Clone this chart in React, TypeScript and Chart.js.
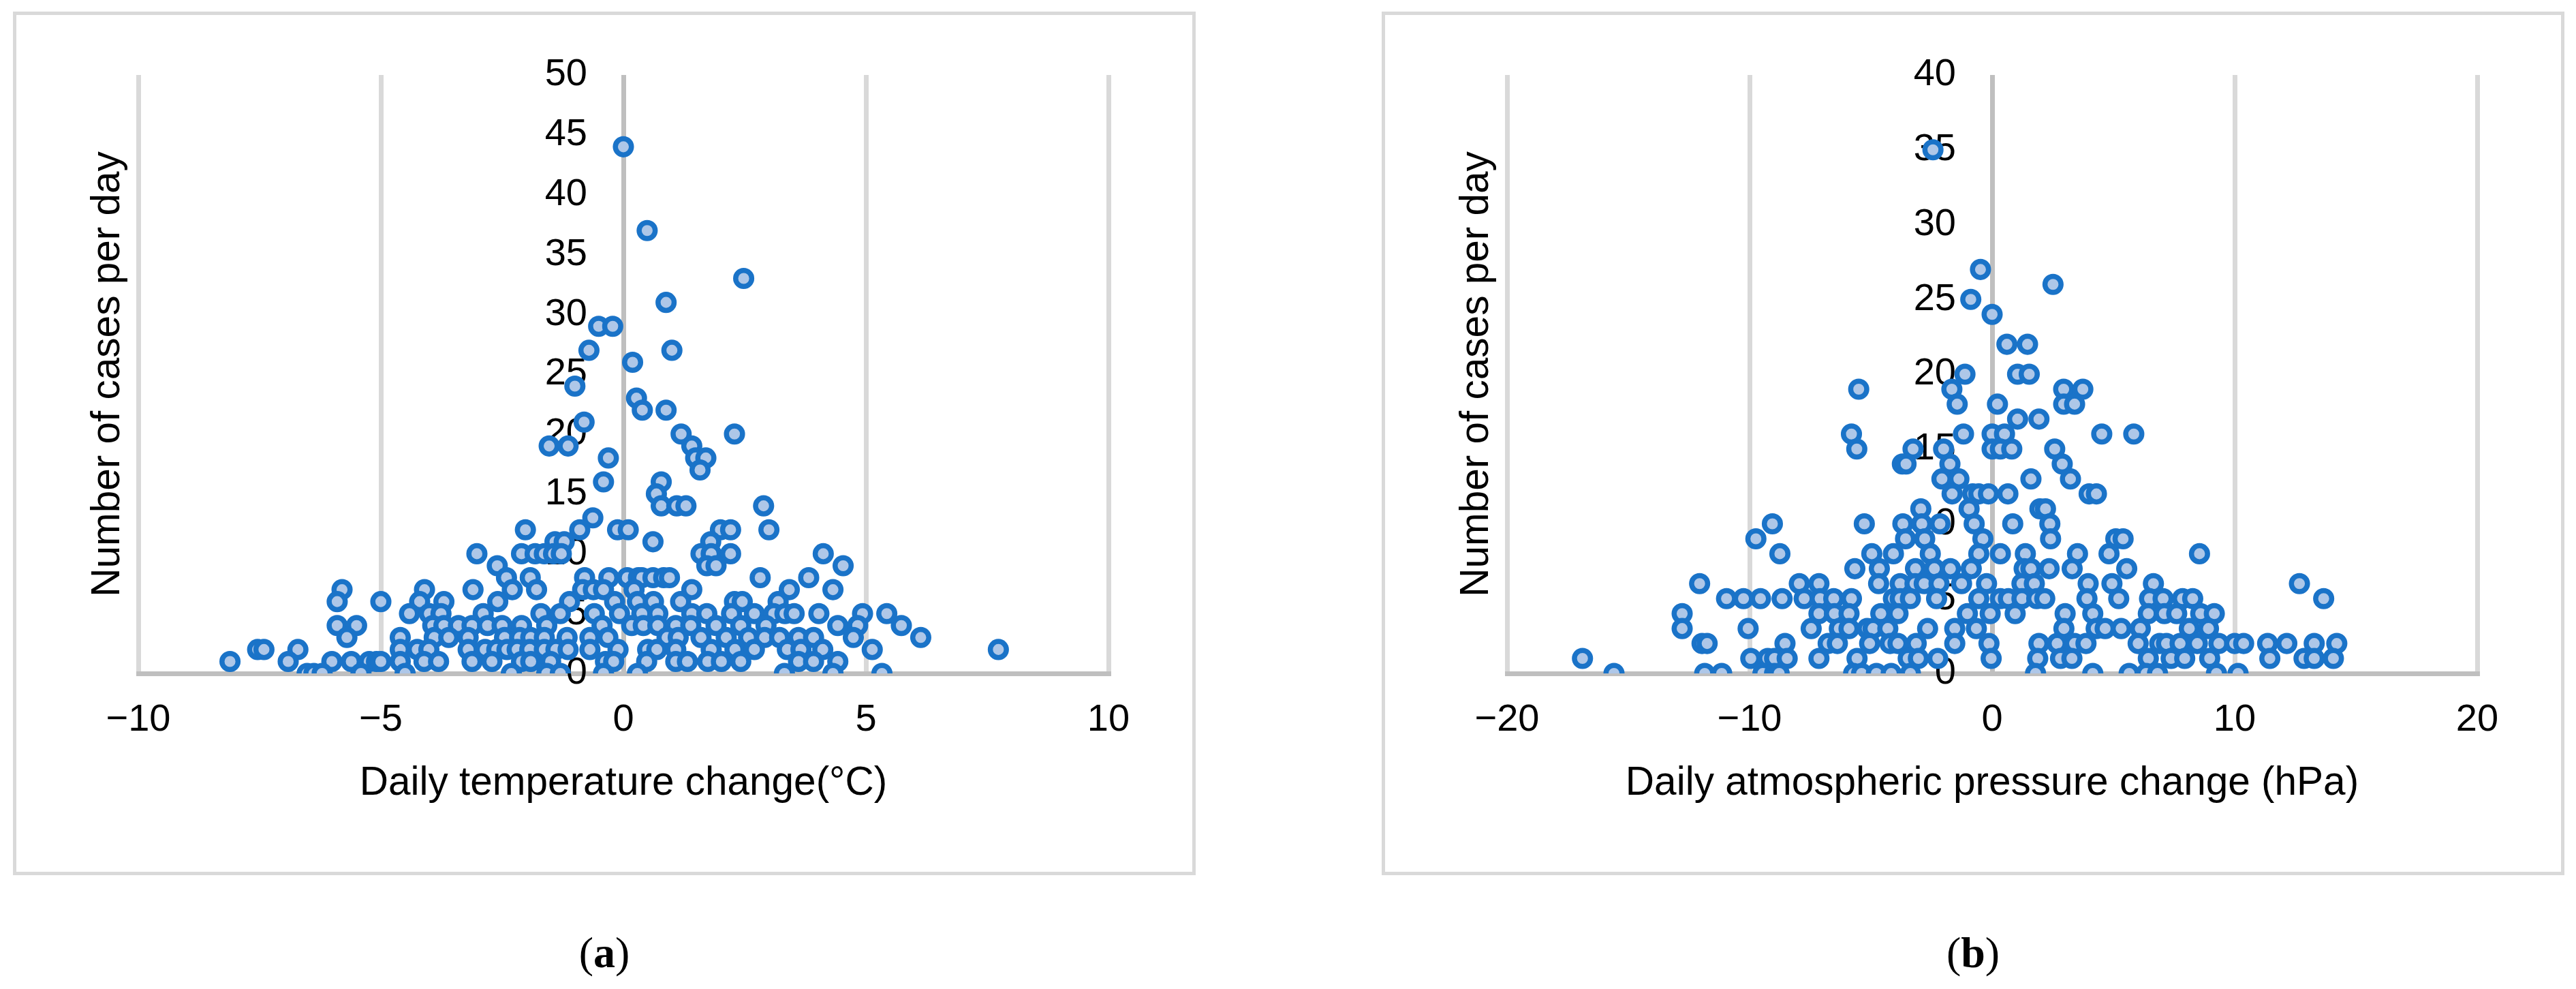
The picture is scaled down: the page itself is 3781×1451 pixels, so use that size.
import React, { useEffect, useRef } from 'react';
import { Chart, registerables } from 'chart.js';

Chart.register(...registerables);

const FONT = '"Liberation Sans", Arial, sans-serif';
const STROKE = '#1a73c8';
const FILL = '#aec7e8';

// x tick range / y tick range
const tempXTicks = [-10, -5, 0, 5, 10];
const tempYTicks = [0, 5, 10, 15, 20, 25, 30, 35, 40, 45, 50];
const pressureXTicks = [-20, -10, 0, 10, 20];
const pressureYTicks = [0, 5, 10, 15, 20, 25, 30, 35, 40];

const tempXTitle = 'Daily temperature change(°C)';
const pressureXTitle = 'Daily atmospheric pressure change (hPa)';
const yTitle = 'Number of cases per day';

// [daily temperature change, cases per day]
const tempPoints: [number, number][] = [
  [0.0, 44], [0.49, 37], [2.48, 33], [0.88, 31], [-0.51, 29], [-0.22, 29],
  [-0.71, 27], [1.0, 27], [0.19, 26], [-1.0, 24], [0.27, 23], [0.39, 22], [0.88, 22],
  [-0.81, 21], [1.19, 20], [2.29, 20], [-1.53, 19], [-1.14, 19], [1.41, 19],
  [-0.31, 18], [1.49, 18], [1.7, 18], [1.58, 17], [-0.41, 16], [0.78, 16], [0.68, 15],
  [0.78, 14], [1.1, 14], [1.29, 14], [2.89, 14], [-0.63, 13],
  [-2.02, 12], [-0.9, 12], [-0.12, 12], [0.1, 12], [2.0, 12], [2.21, 12], [3.0, 12],
  [-1.41, 11], [-1.22, 11], [0.61, 11], [1.8, 11],
  [-3.02, 10], [-2.1, 10], [-1.82, 10], [-1.63, 10], [-1.44, 10], [-1.28, 10], [1.6, 10], [1.81, 10], [2.21, 10], [4.12, 10],
  [-2.6, 9], [1.72, 9], [1.91, 9], [4.53, 9],
  [-2.41, 8], [-1.92, 8], [-0.8, 8], [-0.3, 8], [0.08, 8], [0.31, 8], [0.38, 8], [0.61, 8], [0.83, 8], [0.95, 8], [2.82, 8], [3.82, 8],
  [-5.8, 7], [-4.1, 7], [-3.1, 7], [-2.29, 7], [-1.79, 7], [-0.84, 7], [-0.62, 7], [-0.41, 7], [0.22, 7], [1.41, 7], [3.42, 7], [4.32, 7],
  [-5.9, 6], [-5.0, 6], [-4.2, 6], [-3.7, 6], [-2.59, 6], [-1.11, 6], [-0.18, 6], [0.29, 6], [0.62, 6], [1.18, 6], [2.29, 6], [2.45, 6], [3.19, 6],
  [-4.41, 5], [-4.0, 5], [-3.76, 5], [-2.89, 5], [-1.7, 5], [-1.3, 5], [-0.6, 5], [-0.08, 5], [0.38, 5], [0.71, 5], [1.41, 5], [1.72, 5], [2.23, 5], [2.7, 5], [3.1, 5], [3.33, 5], [3.52, 5], [4.03, 5], [4.93, 5], [5.43, 5],
  [-5.9, 4], [-5.5, 4], [-3.93, 4], [-3.7, 4], [-3.4, 4], [-3.12, 4], [-2.8, 4], [-2.5, 4], [-2.1, 4], [-1.58, 4], [-0.44, 4], [0.17, 4], [0.41, 4], [0.71, 4], [1.08, 4], [1.39, 4], [1.91, 4], [2.42, 4], [2.94, 4], [4.42, 4], [4.83, 4], [5.73, 4],
  [-5.7, 3], [-4.6, 3], [-3.9, 3], [-3.6, 3], [-3.2, 3], [-2.45, 3], [-2.14, 3], [-1.91, 3], [-1.63, 3], [-1.16, 3], [-0.69, 3], [-0.32, 3], [0.9, 3], [1.13, 3], [1.6, 3], [2.12, 3], [2.58, 3], [2.91, 3], [3.22, 3], [3.61, 3], [3.92, 3], [4.74, 3], [6.13, 3],
  [-7.54, 2], [-7.41, 2], [-6.71, 2], [-4.6, 2], [-4.25, 2], [-4.01, 2], [-3.2, 2], [-2.85, 2], [-2.61, 2], [-2.4, 2], [-2.19, 2], [-1.93, 2], [-1.63, 2], [-1.39, 2], [-1.14, 2], [-0.69, 2], [-0.11, 2], [0.5, 2], [0.69, 2], [1.08, 2], [1.81, 2], [2.3, 2], [2.7, 2], [3.38, 2], [3.66, 2], [4.11, 2], [5.13, 2], [7.73, 2],
  [-8.11, 1], [-6.91, 1], [-6.01, 1], [-5.61, 1], [-5.24, 1], [-5.09, 1], [-5.0, 1], [-4.6, 1], [-4.11, 1], [-3.81, 1], [-3.12, 1], [-2.71, 1], [-2.1, 1], [-1.91, 1], [-1.5, 1], [-0.37, 1], [-0.2, 1], [0.48, 1], [1.08, 1], [1.32, 1], [1.74, 1], [2.02, 1], [2.42, 1], [3.61, 1], [3.92, 1], [4.42, 1],
  [-6.52, 0], [-6.38, 0], [-6.21, 0], [-5.41, 0], [-4.5, 0], [-2.31, 0], [-1.58, 0], [-1.3, 0], [-0.41, 0], [0.29, 0], [3.32, 0], [4.32, 0], [5.33, 0],
];

// [daily atmospheric pressure change, cases per day]
const pressurePoints: [number, number][] = [
  [-2.44, 35], [-0.48, 27], [2.51, 26], [-0.88, 25], [0.0, 24], [0.61, 22], [1.46, 22],
  [-1.12, 20], [1.05, 20], [1.53, 20], [-5.5, 19], [-1.66, 19], [2.95, 19], [3.74, 19],
  [-1.44, 18], [0.22, 18], [2.95, 18], [3.4, 18], [1.05, 17], [1.93, 17],
  [-5.8, 16], [-1.18, 16], [0.0, 16], [0.51, 16], [4.52, 16], [5.84, 16],
  [-5.58, 15], [-3.26, 15], [-2.0, 15], [0.0, 15], [0.34, 15], [0.81, 15], [2.58, 15],
  [-3.7, 14], [-3.55, 14], [-1.74, 14], [2.89, 14],
  [-2.07, 13], [-1.37, 13], [1.6, 13], [3.23, 13],
  [-1.65, 12], [-0.8, 12], [-0.55, 12], [-0.15, 12], [0.65, 12], [4.0, 12], [4.3, 12],
  [-2.94, 11], [-0.95, 11], [1.97, 11], [2.2, 11],
  [-9.06, 10], [-5.27, 10], [-3.68, 10], [-2.9, 10], [-2.15, 10], [-0.74, 10], [0.85, 10], [2.38, 10],
  [-9.74, 9], [-3.57, 9], [-2.78, 9], [-0.38, 9], [2.41, 9], [5.1, 9], [5.4, 9],
  [-8.75, 8], [-4.96, 8], [-4.07, 8], [-2.55, 8], [-0.55, 8], [0.34, 8], [1.37, 8], [3.52, 8], [4.82, 8], [8.55, 8],
  [-5.66, 7], [-4.65, 7], [-3.16, 7], [-2.38, 7], [-1.72, 7], [-0.86, 7], [1.32, 7], [1.6, 7], [2.35, 7], [3.3, 7], [5.55, 7],
  [-12.06, 6], [-7.95, 6], [-7.14, 6], [-4.68, 6], [-3.79, 6], [-3.18, 6], [-2.8, 6], [-2.19, 6], [-1.26, 6], [-0.23, 6], [1.23, 6], [1.74, 6], [3.96, 6], [4.94, 6], [6.65, 6], [12.67, 6],
  [-10.95, 5], [-10.25, 5], [-9.55, 5], [-8.66, 5], [-7.75, 5], [-7.09, 5], [-6.53, 5], [-5.8, 5], [-4.07, 5], [-3.79, 5], [-3.37, 5], [-2.29, 5], [-0.55, 5], [0.34, 5], [0.67, 5], [1.23, 5], [1.84, 5], [2.17, 5], [3.91, 5], [5.22, 5], [6.49, 5], [7.05, 5], [7.85, 5], [8.27, 5], [13.67, 5],
  [-12.78, 4], [-7.14, 4], [-6.5, 4], [-5.9, 4], [-4.59, 4], [-3.88, 4], [-1.02, 4], [-0.08, 4], [0.95, 4], [3.01, 4], [4.15, 4], [6.44, 4], [7.1, 4], [7.61, 4], [8.6, 4], [9.16, 4],
  [-12.78, 3], [-10.06, 3], [-7.46, 3], [-6.3, 3], [-5.9, 3], [-5.15, 3], [-4.91, 3], [-4.3, 3], [-2.66, 3], [-1.54, 3], [-0.65, 3], [2.96, 3], [4.29, 3], [4.66, 3], [5.32, 3], [6.11, 3], [8.13, 3], [8.92, 3],
  [-11.96, 2], [-11.75, 2], [-8.54, 2], [-6.76, 2], [-6.38, 2], [-5.05, 2], [-4.21, 2], [-3.88, 2], [-3.13, 2], [-1.54, 2], [-0.13, 2], [1.93, 2], [2.68, 2], [3.4, 2], [3.87, 2], [6.02, 2], [6.91, 2], [7.19, 2], [7.75, 2], [8.46, 2], [9.35, 2], [10.0, 2], [10.37, 2], [11.36, 2], [12.15, 2], [13.28, 2], [14.21, 2],
  [-16.89, 1], [-9.95, 1], [-9.25, 1], [-8.97, 1], [-8.45, 1], [-7.14, 1], [-5.57, 1], [-3.46, 1], [-3.04, 1], [-2.24, 1], [-0.04, 1], [1.88, 1], [2.82, 1], [3.29, 1], [6.44, 1], [7.38, 1], [7.94, 1], [8.97, 1], [11.45, 1], [12.86, 1], [13.28, 1], [14.07, 1],
  [-15.59, 0], [-11.85, 0], [-11.15, 0], [-9.45, 0], [-8.97, 0], [-8.78, 0], [-5.71, 0], [-5.38, 0], [-4.77, 0], [-4.16, 0], [-3.37, 0], [1.79, 0], [4.15, 0], [5.65, 0], [6.35, 0], [6.82, 0], [9.25, 0], [10.14, 0],
];

const PANEL_W = 1736;
const PANEL_H = 1267;
const PAD = { left: 184, right: 128, top: 93, bottom: 0 };
const X_AXIS_H = 296;
const Y_LABEL_GAP = 53;
const TICK_SIZE = 56;
const TITLE_SIZE = 58.5;

const yTitlePlugin = {
  id: 'yTitleDraw',
  afterDraw(chart: any) {
    const { ctx, chartArea } = chart;
    ctx.save();
    ctx.translate(chartArea.left - 44, (chartArea.top + chartArea.bottom) / 2);
    ctx.rotate(-Math.PI / 2);
    ctx.font = `${TITLE_SIZE}px ${FONT}`;
    ctx.fillStyle = '#000';
    ctx.textAlign = 'center';
    ctx.textBaseline = 'middle';
    ctx.fillText(yTitle, 0, 0);
    ctx.restore();
  },
};

const fmt = (v: number) => (v < 0 ? '\u2212' + Math.abs(v) : String(v));

function makeConfig(points: [number, number][], xTicks: number[], yTicks: number[], xTitle: string): any {
  const xMin = xTicks[0];
  const xMax = xTicks[xTicks.length - 1];
  const plotW = PANEL_W - PAD.left - PAD.right;
  const yAxisX = -Y_LABEL_GAP * (xMax - xMin) / plotW;
  return {
    type: 'scatter',
    data: {
      datasets: [
        {
          data: points.map(([x, y]) => ({ x, y })),
          pointRadius: 11.8,
          pointHoverRadius: 11.8,
          pointBorderWidth: 7.5,
          backgroundColor: FILL,
          borderColor: STROKE,
        },
      ],
    },
    options: {
      animation: false,
      responsive: false,
      devicePixelRatio: 1,
      events: [],
      layout: { padding: PAD },
      plugins: { legend: { display: false }, tooltip: { enabled: false } },
      scales: {
        x: {
          type: 'linear',
          position: 'bottom',
          min: xMin,
          max: xMax,
          afterBuildTicks: (s: any) => { s.ticks = xTicks.map((v) => ({ value: v })); },
          afterFit: (s: any) => { s.height = X_AXIS_H; },
          ticks: {
            autoSkip: false,
            maxRotation: 0,
            padding: 35,
            color: '#000',
            font: { family: FONT, size: TICK_SIZE },
            callback: (v: number) => fmt(v),
          },
          grid: {
            drawTicks: false,
            lineWidth: 7,
            color: (c: any) => (c.tick && c.tick.value === 0 ? '#bfbfbf' : '#d9d9d9'),
          },
          border: { display: true, color: '#bfbfbf', width: 7 },
          title: {
            display: true,
            text: xTitle,
            color: '#000',
            font: { family: FONT, size: TITLE_SIZE },
            padding: { top: 0, bottom: 99 },
          },
        },
        y: {
          type: 'linear',
          position: { x: yAxisX },
          min: yTicks[0],
          max: yTicks[yTicks.length - 1],
          afterBuildTicks: (s: any) => { s.ticks = yTicks.map((v) => ({ value: v })); },
          ticks: {
            autoSkip: false,
            color: '#000',
            font: { family: FONT, size: TICK_SIZE },
          },
          grid: { display: false },
          border: { display: false },
        },
      },
    },
    plugins: [yTitlePlugin],
  };
}

function Panel(props: { left: number; points: [number, number][]; xTicks: number[]; yTicks: number[]; xTitle: string; caption: string }) {
  const ref = useRef<HTMLCanvasElement | null>(null);
  useEffect(() => {
    if (!ref.current) return;
    const chart = new Chart(ref.current, makeConfig(props.points, props.xTicks, props.yTicks, props.xTitle));
    return () => chart.destroy();
  }, []);
  return (
    <>
      <div
        style={{
          position: 'absolute',
          left: props.left,
          top: 17,
          width: PANEL_W,
          height: PANEL_H,
          border: '5px solid #d9d9d9',
          boxSizing: 'border-box',
        }}
      />
      <canvas
        ref={ref}
        width={PANEL_W}
        height={PANEL_H}
        style={{ position: 'absolute', left: props.left, top: 17, width: PANEL_W, height: PANEL_H }}
      />
      <div
        style={{
          position: 'absolute',
          left: props.left,
          top: 1366,
          width: PANEL_W,
          textAlign: 'center',
          fontFamily: '"Liberation Serif", "Times New Roman", serif',
          fontSize: 64,
          lineHeight: '64px',
          color: '#000',
        }}
      >
        (<b>{props.caption}</b>)
      </div>
    </>
  );
}

export default function App() {
  return (
    <div style={{ position: 'absolute', left: 0, top: 0, width: 3781, height: 1451, background: '#fff', overflow: 'hidden' }}>
      <Panel left={19} points={tempPoints} xTicks={tempXTicks} yTicks={tempYTicks} xTitle={tempXTitle} caption="a" />
      <Panel left={2028} points={pressurePoints} xTicks={pressureXTicks} yTicks={pressureYTicks} xTitle={pressureXTitle} caption="b" />
    </div>
  );
}
